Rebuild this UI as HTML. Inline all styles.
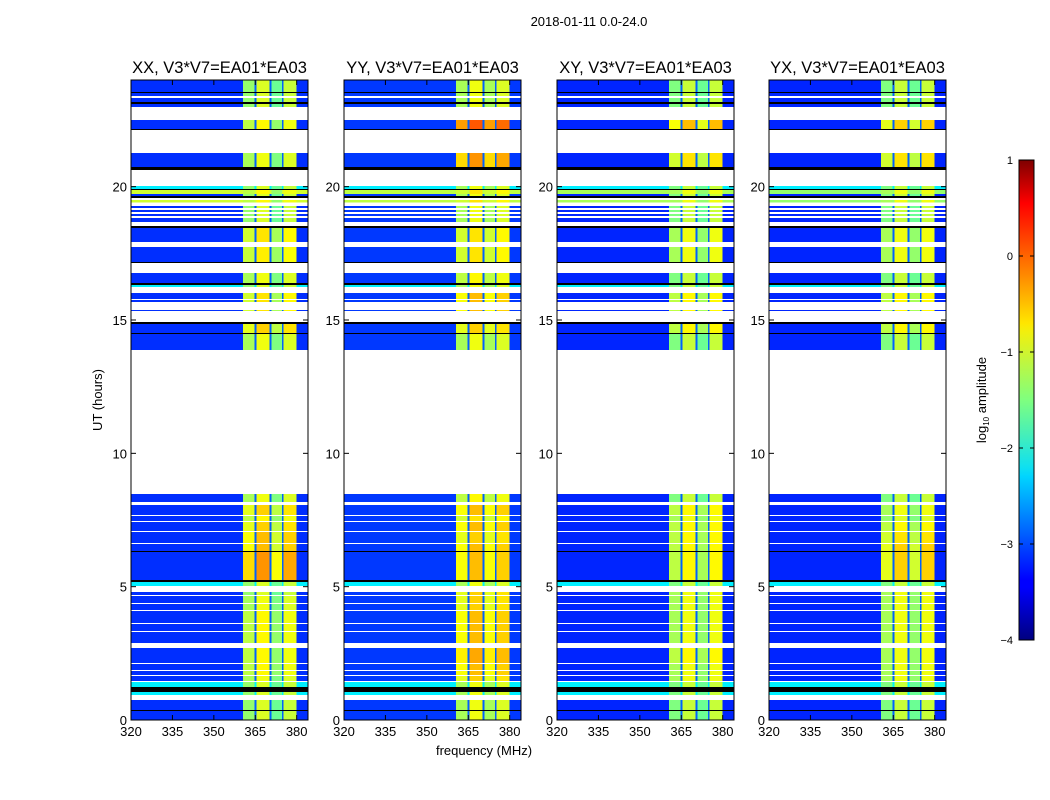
<!DOCTYPE html>
<html><head><meta charset="utf-8">
<style>
html,body{margin:0;padding:0;background:#fff;}
svg{display:block;font-family:"Liberation Sans","DejaVu Sans",sans-serif;}
</style></head>
<body>
<svg id="fig" width="1050" height="800" viewBox="0 0 1050 800" xmlns="http://www.w3.org/2000/svg">
<defs>
<linearGradient id="jet" x1="0" y1="1" x2="0" y2="0">
<stop offset="0" stop-color="#00007f"/><stop offset="0.11" stop-color="#0000ff"/>
<stop offset="0.125" stop-color="#0000ff"/><stop offset="0.34" stop-color="#00d4ff"/>
<stop offset="0.36" stop-color="#0fe0f0"/><stop offset="0.5" stop-color="#7fff7f"/>
<stop offset="0.64" stop-color="#f0f00f"/><stop offset="0.66" stop-color="#ffe600"/>
<stop offset="0.89" stop-color="#ff1200"/><stop offset="0.91" stop-color="#ff0000"/>
<stop offset="1" stop-color="#7f0000"/>
</linearGradient>
</defs>
<text x="589" y="26" font-size="13" text-anchor="middle">2018-01-11 0.0-24.0</text>
<text x="484" y="755" font-size="13" text-anchor="middle">frequency (MHz)</text>
<text transform="translate(102,400) rotate(-90)" font-size="13" text-anchor="middle">UT (hours)</text>
<g id="panels"></g>
<g id="cbar"></g>
</svg>
<script>
const panelTitles = ["XX, V3*V7=EA01*EA03","YY, V3*V7=EA01*EA03","XY, V3*V7=EA01*EA03","YX, V3*V7=EA01*EA03"];
const xTicks = [320,335,350,365,380];
const yTicks = [0,5,10,15,20];
const cbTicks = [1,0,-1,-2,-3,-4];
// frequency band edges (MHz) and per-panel log10 amplitude levels per band
const freqEdges = [320,360.6,364.8,365.4,370.2,370.8,374.7,375.3,379.9,384.1];
const isBand = [0,1,0,1,0,1,0,1,0];
const levelsXX = [-3.15,-1.4,-2.9,-1.05,-2.9,-1.6,-2.9,-1.15,-3.15];
const levelsYY = [-3.1,-1.3,-2.9,-0.95,-2.9,-1.3,-2.9,-1.05,-3.1];
const levelsXY = [-3.2,-1.5,-2.9,-1.15,-2.9,-1.6,-2.9,-1.15,-3.2];
const levelsYX = [-3.2,-1.5,-2.9,-1.15,-2.9,-1.6,-2.9,-1.15,-3.2];
// time rows: [startHour, endHour, type] type: 'd' data, 'w' no data, 'k' black, 'c' cyan row, 'y' yellow stripe
const rowsStart = [24,23.55,23.51,23.4,23.33,23.17,23.1,22.98,22.5,22.16,22.12,21.26,20.74,20.62,20.02,19.91,19.87,19.72,19.65,19.57,19.5,19.4,19.27,19.2,19.12,19.05,18.97,18.9,18.82,18.67,18.52,18.45,17.92,17.73,17.17,17.14,16.76,16.39,16.31,16.24,16.01,15.79,15.75,15.67,15.38,15.34,14.92,14.85,14.51,14.47,13.87,8.47,8.17,8.06,7.69,7.65,7.46,7.42,7.09,7.05,6.64,6.6,6.34,6.3,5.25,5.17,5.02,4.8,4.69,4.65,4.39,4.35,4.12,4.09,3.64,3.6,3.34,3.3,2.89,2.7,2.14,2.1,1.87,1.84,1.69,1.65,1.46,1.42,1.24,1.05,0.94,0.75,0.37,0.34];
const rowsEnd   = [23.55,23.51,23.4,23.33,23.17,23.1,22.98,22.5,22.16,22.12,21.26,20.74,20.62,20.02,19.91,19.87,19.72,19.65,19.57,19.5,19.4,19.27,19.2,19.12,19.05,18.97,18.9,18.82,18.67,18.52,18.45,17.92,17.73,17.17,17.14,16.76,16.39,16.31,16.24,16.01,15.79,15.75,15.67,15.38,15.34,14.92,14.85,14.51,14.47,13.87,8.47,8.17,8.06,7.69,7.65,7.46,7.42,7.09,7.05,6.64,6.6,6.34,6.3,5.25,5.17,5.02,4.8,4.69,4.65,4.39,4.35,4.12,4.09,3.64,3.6,3.34,3.3,2.89,2.7,2.14,2.1,1.87,1.84,1.69,1.65,1.46,1.42,1.24,1.05,0.94,0.75,0.37,0.34,0];
const rowsType  = ['d','k','d','w','d','k','d','w','d','k','w','d','k','w','c','k','y','d','k','w','y','w','d','w','d','w','d','w','d','w','k','d','w','d','k','w','d','k','c','w','d','w','d','w','d','w','k','d','k','d','w','d','w','d','w','d','w','d','w','d','w','d','k','d','k','c','w','d','w','d','w','d','w','d','w','d','w','d','w','d','w','d','w','d','w','d','w','c','k','c','w','d','k','d'];
// per-row band boost (log10) for each panel
const boostXX = [0,0,0,0,0,0,0,0,0.2,0,0,0.1,0,0,0,0,0,0,0,0,0,0,0,0,0,0,0,0,0,0,0,0.3,0,0.25,0,0,0.1,0,0,0,0.3,0,0.3,0,0.3,0,0,0.4,0,0.1,0,0.1,0,0.4,0,0.2,0,0.4,0,0.5,0,0.5,0,0.7,0,0,0,0,0,0.1,0,0.1,0,0.2,0,0.2,0,0.2,0,0.2,0,0.2,0,0.2,0,0.1,0,0,0,0,0,0,0,0];
const boostYY = [0,0,0,0,0,0,0,0,0.9,0,0,0.6,0,0,0,0,0,0,0,0,0,0,0,0,0,0,0,0,0,0,0,0.2,0,0.2,0,0,0.1,0,0,0,0.4,0,0.4,0,0.4,0,0,0.3,0,0,0,0.1,0,0.4,0,0.2,0,0.4,0,0.3,0,0.4,0,0.4,0,0,0,0.3,0,0.3,0,0.3,0,0.4,0,0.4,0,0.4,0,0.5,0,0.4,0,0.4,0,0.3,0,0,0,0,0,0,0,0];
const boostXY = [0,0,0,0,0,0,0,0,0.6,0,0,0.4,0,0,0,0,0,0,0,0,0,0,0,0,0,0,0,0,0,0,0,0.2,0,0.2,0,0,0,0,0,0,0.3,0,0.3,0,0.3,0,0,0.3,0,0,0,0,0,0.3,0,0.2,0,0.3,0,0.3,0,0.3,0,0.3,0,0,0,0.2,0,0.2,0,0.2,0,0.2,0,0.2,0,0.2,0,0.3,0,0.2,0,0.2,0,0.2,0,0,0,0,0,0,0,0];
const boostYX = [0,0,0,0,0,0,0,0,0.5,0,0,0.4,0,0,0,0,0,0,0,0,0,0,0,0,0,0,0,0,0,0,0,0.2,0,0.2,0,0,0,0,0,0,0.3,0,0.3,0,0.3,0,0,0.3,0,0,0,0,0,0.2,0,0.1,0,0.3,0,0.4,0,0.5,0,0.5,0,0,0,0.2,0,0.2,0,0.2,0,0.2,0,0.2,0,0.2,0,0.2,0,0.2,0,0.2,0,0.2,0,0,0,0,0,0,0,0];
const panelLevels = [levelsXX,levelsYY,levelsXY,levelsYX];
const panelBoosts = [boostXX,boostYY,boostXY,boostYX];

const NS = "http://www.w3.org/2000/svg";
const panelLeft = [131,344,557,769];
const PW = 177, PT = 80, PB = 720;
const xDom = [320,384.1], yDom = [0,24];
function xs(p,f){return panelLeft[p] + (f - xDom[0]) / (xDom[1]-xDom[0]) * PW;}
function ys(h){return PB - (h - yDom[0]) / (yDom[1]-yDom[0]) * (PB-PT);}
function jet(v){
  const t = Math.max(0, Math.min(1, (v + 4) / 5));
  const c = x => Math.round(255*Math.max(0, Math.min(1, x)));
  return `rgb(${c(1.5-Math.abs(4*t-3))},${c(1.5-Math.abs(4*t-2))},${c(1.5-Math.abs(4*t-1))})`;
}
function mk(tag, attrs, parent){
  const e = document.createElementNS(NS, tag);
  for (const k in attrs) e.setAttribute(k, attrs[k]);
  parent.appendChild(e); return e;
}
const panelsG = document.getElementById('panels');
for (let p = 0; p < 4; p++){
  const g = mk('g', {}, panelsG);
  
  
  const hm = mk('g', {'shape-rendering':'crispEdges'}, g);
  
  
  for (let r = 0; r < rowsStart.length; r++){
    const typ = rowsType[r];
    if (typ === 'w') continue;
    const y0 = ys(rowsStart[r]), y1 = ys(rowsEnd[r]);
    if (typ === 'k'){
      const rr = mk('rect', {x: xs(p,xDom[0]), y: y0, width: PW, height: Math.max(1, y1-y0), fill: '#000'}, hm);
      
      
      continue;
    }
    for (let c = 0; c < isBand.length; c++){
      let v = panelLevels[p][c];
      if (isBand[c]) v += panelBoosts[p][r];
      if (typ === 'c') v = Math.max(v, -2.2);
      if (typ === 'y') v = isBand[c] ? v + 0.2 : -1.1 - 0.1*p;
      const x0 = xs(p, freqEdges[c]), x1 = xs(p, freqEdges[c+1]);
      const cell = mk('rect', {x: x0, y: y0, width: x1-x0, height: Math.max(1, y1-y0), fill: jet(v)}, hm);
      
      
    }
  }
  const L = panelLeft[p];
  const frame = mk('rect', {x: L, y: PT, width: PW, height: PB-PT, fill: 'none', stroke: '#000', 'stroke-width': 1}, g);
  
  
  const t = mk('text', {x: L + PW/2, y: 73, 'font-size': 16.5, 'text-anchor': 'middle'}, g);
  t.textContent = panelTitles[p];
  
  
  xTicks.forEach(v => {
    const x = xs(p, v);
    mk('line', {x1: x, y1: PB, x2: x, y2: PB-5, stroke: '#000'}, g);
    mk('line', {x1: x, y1: PT, x2: x, y2: PT+5, stroke: '#000'}, g);
    const tl = mk('text', {x: x, y: PB+16, 'font-size': 13, 'text-anchor': 'middle'}, g);
    tl.textContent = v;
    
    
  });
  yTicks.forEach(v => {
    const y = ys(v);
    mk('line', {x1: L, y1: y, x2: L+5, y2: y, stroke: '#000'}, g);
    mk('line', {x1: L+PW, y1: y, x2: L+PW-5, y2: y, stroke: '#000'}, g);
    const tl = mk('text', {x: L-4, y: y+5, 'font-size': 13, 'text-anchor': 'end'}, g);
    tl.textContent = v;
    
    
  });
}
// colorbar
const cb = document.getElementById('cbar');
const CX = 1019, CW = 15, CT = 160, CB = 640;
mk('rect', {x: CX, y: CT, width: CW, height: CB-CT, fill: 'url(#jet)', stroke: '#000', 'stroke-width': 1}, cb);
cbTicks.forEach(v => {
  const y = CB - (v + 4) / 5 * (CB - CT);
  mk('line', {x1: CX, y1: y, x2: CX+4, y2: y, stroke: '#000'}, cb);
  mk('line', {x1: CX+CW, y1: y, x2: CX+CW-4, y2: y, stroke: '#000'}, cb);
  const tl = mk('text', {x: 1013, y: y+4, 'font-size': 11, 'text-anchor': 'end'}, cb);
  tl.textContent = v < 0 ? '\u2212' + (-v) : String(v);
  
  
});
const cl = mk('text', {transform: 'translate(986,400) rotate(-90)', 'font-size': 13, 'text-anchor': 'middle'}, cb);
cl.innerHTML = 'log<tspan font-size="8" dy="3">10</tspan><tspan dy="-3"> amplitude</tspan>';


</script>
</body></html>
